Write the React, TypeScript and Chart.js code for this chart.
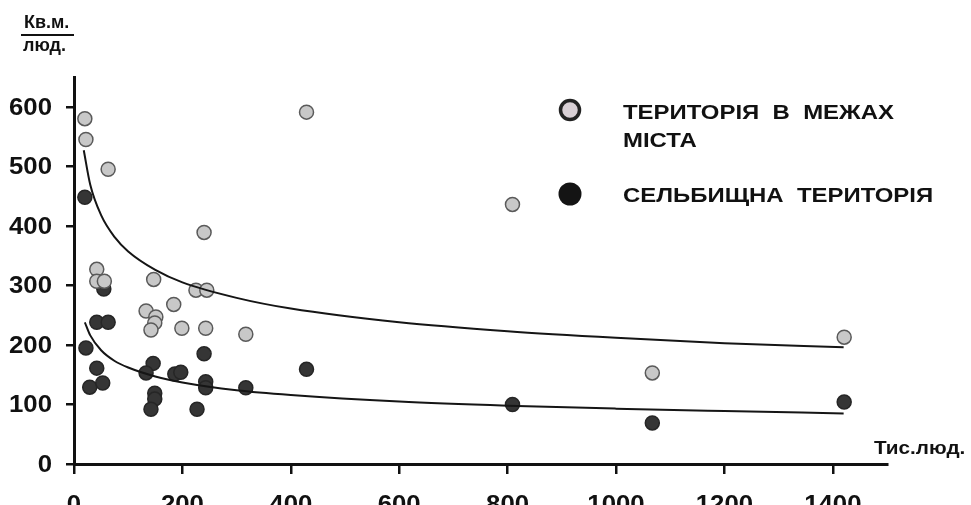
import { useEffect, useRef } from "react";
import { Chart, registerables } from "chart.js";

Chart.register(...registerables);

// Territory within city limits (thousand people → sq.m per person)
const cityX = [20, 22, 63, 240, 42, 42, 56, 147, 225, 245, 184, 133, 151, 149, 142, 199, 243, 317, 429, 809, 1067, 1421];
const cityY = [580, 545, 495, 389, 327, 307, 307, 310, 292, 292, 268, 257, 247, 237, 225, 228, 228, 218, 591, 436, 153, 213];

// Residential territory
const residX = [20, 55, 42, 63, 22, 42, 29, 53, 146, 133, 186, 197, 240, 243, 243, 317, 149, 149, 142, 227, 429, 809, 1067, 1421];
const residY = [448, 294, 238, 238, 195, 161, 129, 136, 169, 153, 151, 154, 185, 138, 128, 128, 119, 109, 92, 92, 159, 100, 69, 104];

// Trend curves
const cityTrendX = [18, 30, 50, 75, 100, 150, 200, 300, 400, 600, 800, 1000, 1200, 1420];
const cityTrendY = [527, 469, 418, 381, 357, 326, 305, 279, 261, 238, 223, 212, 203, 196];
const residTrendX = [20, 30, 50, 75, 100, 150, 200, 300, 400, 600, 800, 1000, 1200, 1420];
const residTrendY = [238, 216, 191, 173, 162, 147, 137, 124, 116, 105, 98, 93, 89, 85];

const legendLabels = [["ТЕРИТОРІЯ  В  МЕЖАХ", "МІСТА"], ["СЕЛЬБИЩНА  ТЕРИТОРІЯ"]];
const yTitleTop = "Кв.м.";
const yTitleBottom = "люд.";
const xTitle = "Тис.люд.";

const FONT = '"Liberation Sans", Arial, sans-serif';
const INK = "#111";

const toPoints = (xs: number[], ys: number[]) => xs.map((x, i) => ({ x, y: ys[i] }));

function drawText(
  ctx: CanvasRenderingContext2D,
  text: string,
  x: number,
  y: number,
  size: number,
  stretch: number,
  align: CanvasTextAlign = "left"
) {
  ctx.save();
  ctx.font = `bold ${size}px ${FONT}`;
  ctx.textAlign = align;
  ctx.textBaseline = "alphabetic";
  ctx.fillStyle = INK;
  ctx.translate(x, y);
  ctx.scale(stretch, 1);
  ctx.fillText(text, 0, 0);
  ctx.restore();
}

const decorations = {
  id: "decorations",
  afterDraw(chart: Chart) {
    const ctx = chart.ctx;
    const xs = chart.scales.x;
    const ys = chart.scales.y;

    // tick labels (plain integers, no thousands separator)
    for (const t of xs.ticks) {
      drawText(ctx, String(t.value), xs.getPixelForValue(t.value), 512, 23, 1.12, "center");
    }
    for (const t of ys.ticks) {
      drawText(ctx, String(t.value), 52, ys.getPixelForValue(t.value) + 8, 23, 1.12, "right");
    }

    // y-axis unit as a fraction
    drawText(ctx, yTitleTop, 24, 28, 18, 1, "left");
    ctx.save();
    ctx.strokeStyle = INK;
    ctx.lineWidth = 2;
    ctx.beginPath();
    ctx.moveTo(21, 35);
    ctx.lineTo(74, 35);
    ctx.stroke();
    ctx.restore();
    drawText(ctx, yTitleBottom, 23, 51, 18, 1, "left");

    // x-axis unit
    drawText(ctx, xTitle, 874, 454, 18, 1.15, "left");

    // legend
    ctx.save();
    ctx.beginPath();
    ctx.arc(570, 110, 9.5, 0, Math.PI * 2);
    ctx.fillStyle = "#d8cfd4";
    ctx.fill();
    ctx.lineWidth = 3.5;
    ctx.strokeStyle = "#222";
    ctx.stroke();
    ctx.beginPath();
    ctx.arc(570, 194, 11.5, 0, Math.PI * 2);
    ctx.fillStyle = "#141414";
    ctx.fill();
    ctx.restore();
    drawText(ctx, legendLabels[0][0], 623, 119, 21, 1.14, "left");
    drawText(ctx, legendLabels[0][1], 623, 147, 21, 1.14, "left");
    drawText(ctx, legendLabels[1][0], 623, 202, 21, 1.14, "left");
  },
};

export default function App() {
  const ref = useRef<HTMLCanvasElement | null>(null);

  useEffect(() => {
    if (!ref.current) return;
    const chart = new Chart(ref.current, {
      type: "scatter",
      data: {
        datasets: [
          {
            type: "line",
            data: toPoints(cityTrendX, cityTrendY),
            borderColor: "#151515",
            borderWidth: 2,
            pointRadius: 0,
            cubicInterpolationMode: "monotone",
            fill: false,
            order: 0,
          },
          {
            type: "line",
            data: toPoints(residTrendX, residTrendY),
            borderColor: "#151515",
            borderWidth: 2,
            pointRadius: 0,
            cubicInterpolationMode: "monotone",
            fill: false,
            order: 0,
          },
          {
            data: toPoints(cityX, cityY),
            backgroundColor: "#c8c8c8",
            borderColor: "#5a5a5a",
            borderWidth: 1.5,
            pointRadius: 7,
            order: 1,
          },
          {
            data: toPoints(residX, residY),
            backgroundColor: "#353535",
            borderColor: "#262626",
            borderWidth: 1.5,
            pointRadius: 7,
            order: 2,
          },
        ],
      },
      options: {
        responsive: false,
        animation: false,
        layout: { padding: { top: 77, right: 84, left: 0, bottom: 0 } },
        plugins: { legend: { display: false }, tooltip: { enabled: false } },
        scales: {
          x: {
            type: "linear",
            min: 0,
            max: 1500,
            afterFit: (s: any) => {
              s.height = 66;
            },
            ticks: { stepSize: 200, includeBounds: false, display: false, autoSkip: false },
            grid: { drawOnChartArea: false, drawTicks: true, tickLength: 10, color: INK, lineWidth: 2.5 },
            border: { display: true, color: INK, width: 3 },
          },
          y: {
            type: "linear",
            min: 0,
            max: 650,
            afterFit: (s: any) => {
              s.width = 74;
            },
            ticks: { stepSize: 100, includeBounds: false, display: false, autoSkip: false },
            grid: { drawOnChartArea: false, drawTicks: true, tickLength: 8, color: INK, lineWidth: 2.5 },
            border: { display: true, color: INK, width: 3 },
          },
        },
      },
      plugins: [decorations],
    });
    return () => chart.destroy();
  }, []);

  return (
    <div
      style={{
        position: "absolute",
        left: 0,
        top: 0,
        width: 971,
        height: 505,
        overflow: "hidden",
        background: "#fff",
      }}
    >
      <canvas ref={ref} width={971} height={530} style={{ display: "block" }} />
    </div>
  );
}
